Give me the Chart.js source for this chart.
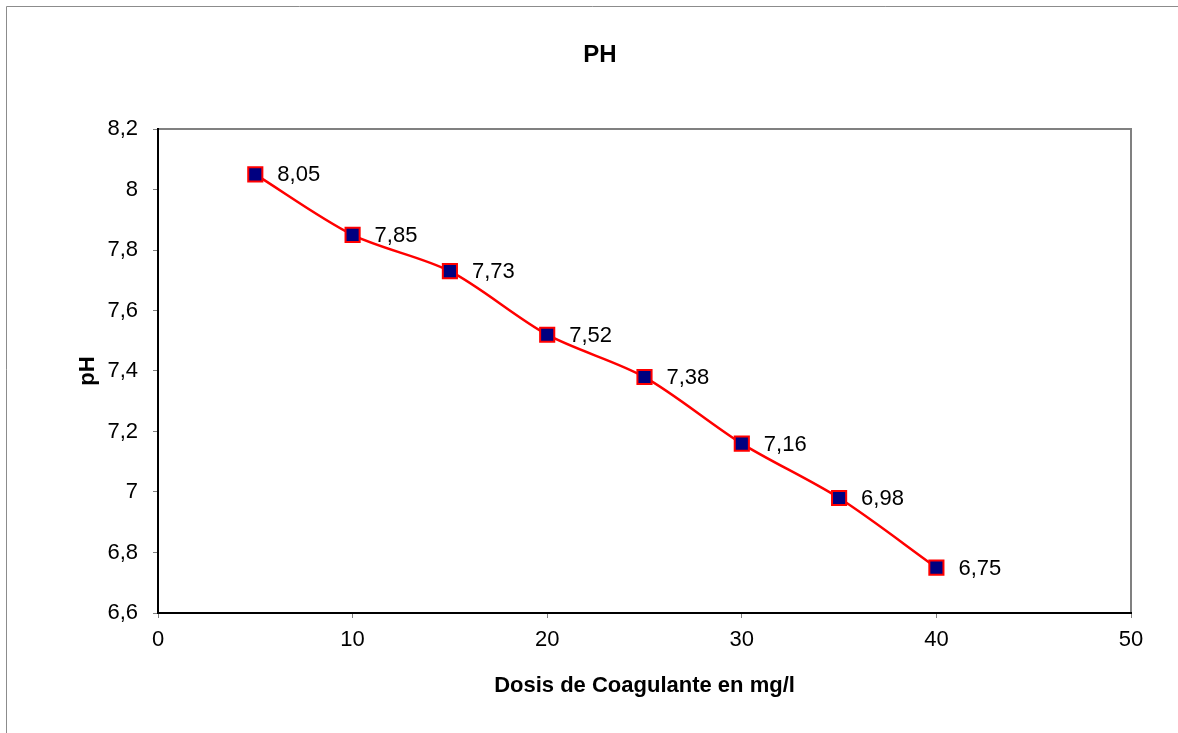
<!DOCTYPE html>
<html>
<head>
<meta charset="utf-8">
<script src="https://cdn.jsdelivr.net/npm/chart.js@4/dist/chart.umd.min.js"></script>
<style>
  body { margin: 0; background: #fff; }
  canvas { display: block; }
</style>
</head>
<body>
<canvas id="chart" width="1178" height="733"></canvas>
<script>
// data
const dosis = [5, 10, 15, 20, 25, 30, 35, 40];
const phValues = [8.05, 7.85, 7.73, 7.52, 7.38, 7.16, 6.98, 6.75];
const chartTitle = "PH";
const xTitle = "Dosis de Coagulante en mg/l";
const yTitle = "pH";

const FONT = "'Liberation Sans', Arial, sans-serif";

const comma = (v) => String(Number(v.toFixed(2))).replace(".", ",");

// frame, title and value labels
const decor = {
    id: "decor",
    beforeDraw(chart) {
        const { ctx, chartArea: a, width } = chart;
        ctx.save();
        // outer border
        ctx.strokeStyle = "#8c8c8c";
        ctx.lineWidth = 1;
        ctx.beginPath();
        ctx.moveTo(6.5, chart.height);
        ctx.lineTo(6.5, 6.5);
        ctx.lineTo(width, 6.5);
        ctx.stroke();
        // plot frame (top and right grey)
        ctx.strokeStyle = "#808080";
        ctx.lineWidth = 2;
        ctx.strokeRect(a.left, a.top, a.right - a.left, a.bottom - a.top);
        // title
        ctx.fillStyle = "#000";
        ctx.font = "bold 24px " + FONT;
        ctx.textAlign = "center";
        ctx.textBaseline = "middle";
        ctx.fillText(chartTitle, 600, 55);
        ctx.restore();
    },
    afterDatasetsDraw(chart) {
        const { ctx } = chart;
        const meta = chart.getDatasetMeta(0);
        ctx.save();
        ctx.fillStyle = "#000";
        ctx.font = "22px " + FONT;
        ctx.textAlign = "left";
        ctx.textBaseline = "middle";
        meta.data.forEach((pt, i) => {
            ctx.fillText(comma(phValues[i]), pt.x + 22, pt.y + 1);
        });
        ctx.restore();
    }
};

const ctx = document.getElementById("chart").getContext("2d");
new Chart(ctx, {
    type: "line",
    data: {
        labels: dosis,
        datasets: [{
            data: dosis.map((d, i) => ({ x: d, y: phValues[i] })),
            borderColor: "#ff0000",
            borderWidth: 2.5,
            tension: 0.3,
            fill: false,
            pointStyle: "rect",
            pointRadius: 10,
            pointHoverRadius: 10,
            pointBackgroundColor: "#000080",
            pointBorderColor: "#ff0000",
            pointBorderWidth: 2
        }]
    },
    options: {
        responsive: false,
        animation: false,
        events: [],
        layout: { padding: { top: 129, left: 0, right: 47, bottom: 0 } },
        plugins: {
            legend: { display: false },
            title: { display: false },
            tooltip: { enabled: false }
        },
        scales: {
            x: {
                type: "linear",
                min: 0,
                max: 50,
                afterFit: (s) => { s.height = 120; },
                ticks: {
                    stepSize: 10,
                    padding: 9,
                    color: "#000",
                    font: { family: FONT, size: 22 },
                    callback: (v) => comma(v)
                },
                grid: { drawOnChartArea: false, drawTicks: true, tickLength: 5, color: "#808080" },
                border: { color: "#000", width: 2 },
                title: {
                    display: true,
                    text: xTitle,
                    color: "#000",
                    font: { family: FONT, size: 22, weight: "bold" },
                    padding: { top: 0, bottom: 34 }
                }
            },
            y: {
                min: 6.6,
                max: 8.2,
                afterFit: (s) => { s.width = 158; },
                ticks: {
                    stepSize: 0.2,
                    padding: 15,
                    color: "#000",
                    font: { family: FONT, size: 22 },
                    callback: (v) => comma(v)
                },
                grid: { drawOnChartArea: false, drawTicks: true, tickLength: 5, color: "#808080" },
                border: { color: "#000", width: 2 },
                title: {
                    display: true,
                    text: yTitle,
                    color: "#000",
                    font: { family: FONT, size: 22, weight: "bold" },
                    padding: { top: 75, bottom: 0 }
                }
            }
        }
    },
    plugins: [decor]
});
</script>
</body>
</html>
